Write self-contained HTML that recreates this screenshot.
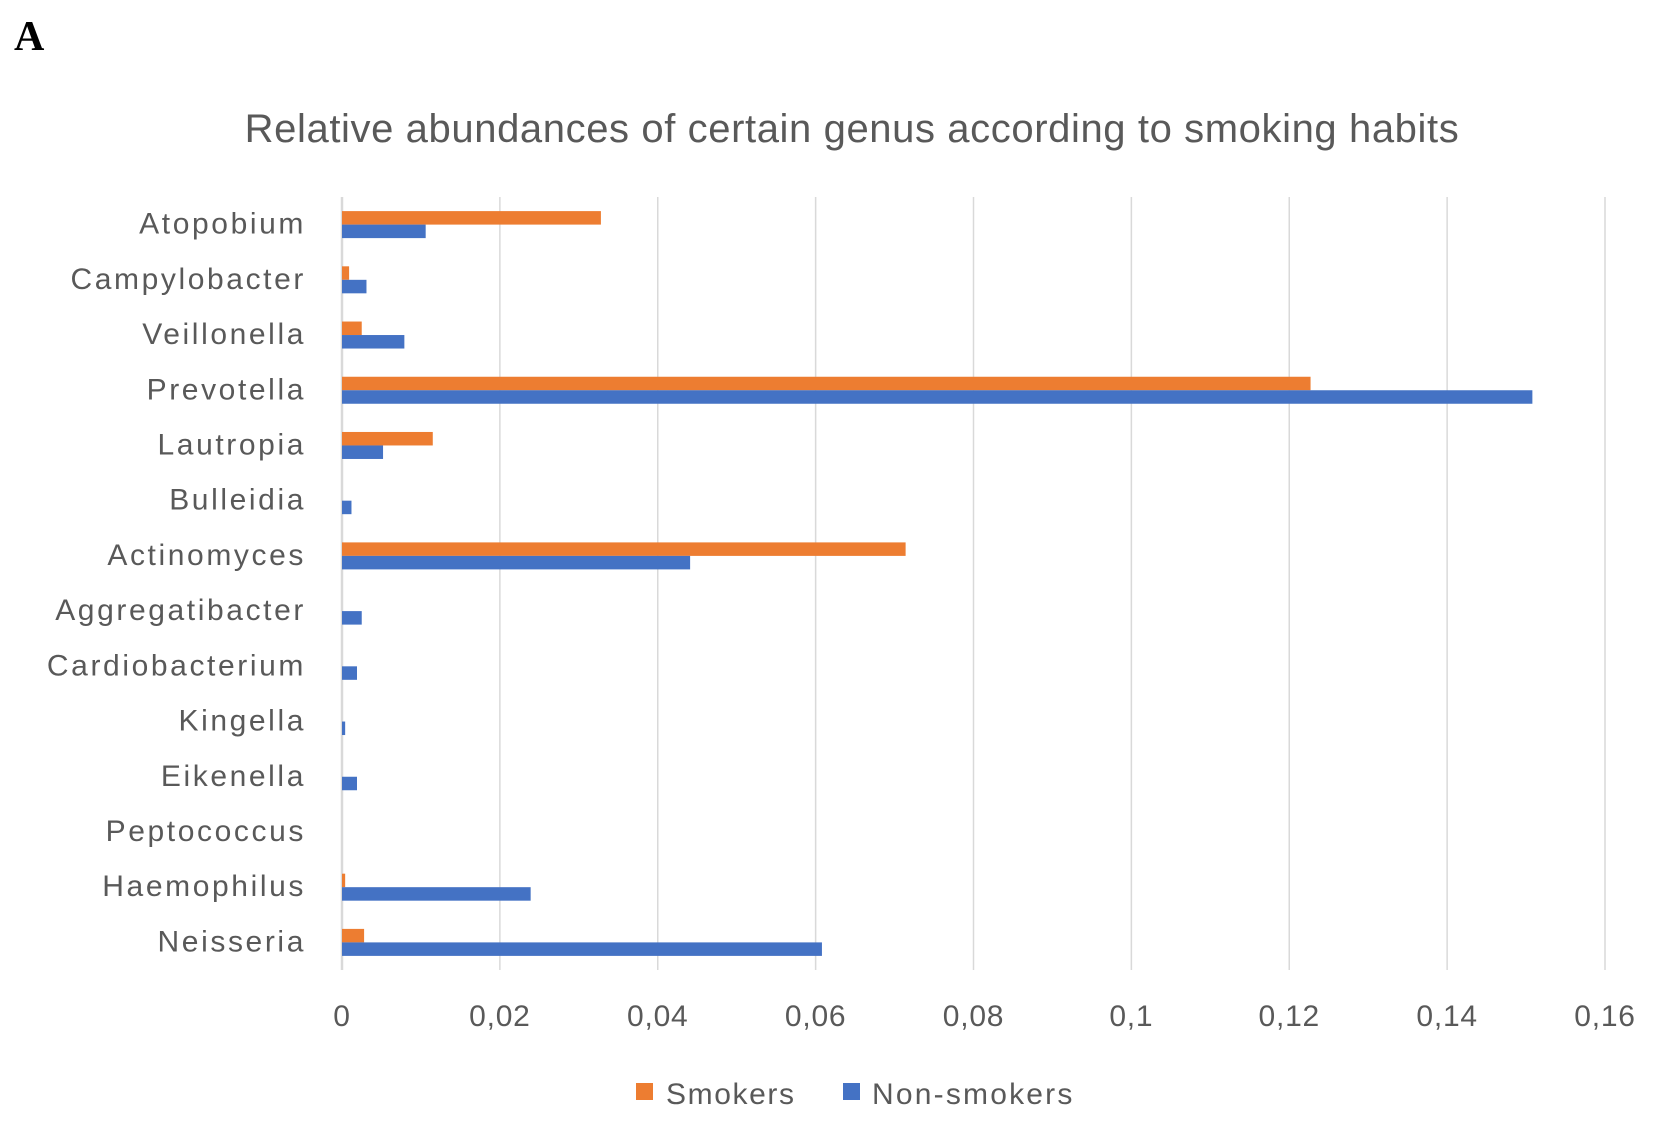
<!DOCTYPE html>
<html><head><meta charset="utf-8"><style>
body{margin:0;background:#fff;font-family:"Liberation Sans",sans-serif}
</style></head><body>
<svg width="1653" height="1120" xmlns="http://www.w3.org/2000/svg">
<text x="14" y="50" font-family="Liberation Serif" font-weight="bold" font-size="42" fill="#000">A</text>
<text x="852" y="142" text-anchor="middle" font-size="40" letter-spacing="0.6" fill="#595959">Relative abundances of certain genus according to smoking habits</text>
<g id="grid"></g><g id="bars"></g><g id="labels"></g>
<g>
<rect x="636" y="1083" width="17" height="17" fill="#ED7D31"/>
<text x="666" y="1104" font-size="30" letter-spacing="1.6" fill="#595959">Smokers</text>
<rect x="843" y="1083" width="17" height="17" fill="#4472C4"/>
<text x="872" y="1104" font-size="30" letter-spacing="2.2" fill="#595959">Non-smokers</text>
</g>
</svg>
<script>
const categories=["Atopobium","Campylobacter","Veillonella","Prevotella","Lautropia","Bulleidia","Actinomyces","Aggregatibacter","Cardiobacterium","Kingella","Eikenella","Peptococcus","Haemophilus","Neisseria"];
const smokers=[0.0328,0.0009,0.0025,0.1227,0.0115,0,0.0714,0,0,0,0,0,0.0004,0.0028];
const nonSmokers=[0.0106,0.0031,0.0079,0.1508,0.0052,0.0012,0.0441,0.0025,0.0019,0.0004,0.0019,0,0.0239,0.0608];
const ticks=[0,0.02,0.04,0.06,0.08,0.1,0.12,0.14,0.16];
const tickLabels=["0","0,02","0,04","0,06","0,08","0,1","0,12","0,14","0,16"];
const NS="http://www.w3.org/2000/svg";
const x0=342,x1=1605,plotTop=197,plotBottom=970;
const xs=v=>x0+(v/0.16)*(x1-x0);
const step=(plotBottom-plotTop)/categories.length;
const yc=i=>plotTop+step*(i+0.5);
function mk(t,a,p){const e=document.createElementNS(NS,t);for(const k in a)e.setAttribute(k,a[k]);p.appendChild(e);return e;}
const grid=document.getElementById('grid'),bars=document.getElementById('bars'),labels=document.getElementById('labels');
ticks.forEach((t,i)=>{
 const l=mk('line',{x1:xs(t),x2:xs(t),y1:plotTop,y2:plotBottom,stroke:'#d9d9d9','stroke-width':i==0?2.5:1.5},grid);
 
 
 const tx=mk('text',{x:xs(t),y:1026,'text-anchor':'middle','font-size':30,'letter-spacing':0.8,fill:'#595959'},labels);
 tx.textContent=tickLabels[i];
 
 
});
const bh=13.5;
categories.forEach((c,i)=>{
 const y=yc(i);
 const t=mk('text',{x:306,y:y+9,'text-anchor':'end','font-size':30,'letter-spacing':2.6,fill:'#595959'},labels);
 t.textContent=c;
 
 
 const r1=mk('rect',{x:x0,y:y-bh,width:Math.max(0,xs(smokers[i])-x0),height:bh,fill:'#ED7D31'},bars);
 
 
 const r2=mk('rect',{x:x0,y:y,width:Math.max(0,xs(nonSmokers[i])-x0),height:bh,fill:'#4472C4'},bars);
 
 
});
</script>
</body></html>
